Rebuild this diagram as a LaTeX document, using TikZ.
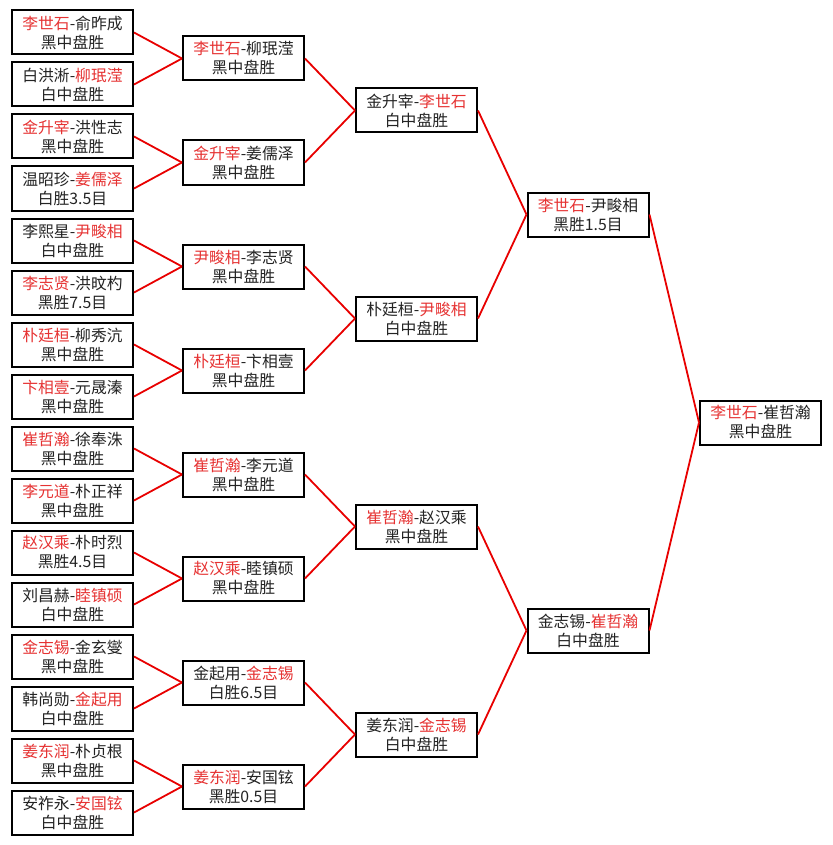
\documentclass[tikz,border=0pt]{standalone}
\usepackage{fontspec}
\setmainfont{Noto Sans CJK SC}
\definecolor{txtred}{RGB}{230,50,50}
\definecolor{linered}{RGB}{232,0,0}
\definecolor{txtblk}{RGB}{35,35,35}
\newcommand\rn[1]{\textcolor{txtred}{#1}}
\tikzset{
  game/.style={draw=black, line width=2pt, fill=white, minimum width=121pt, minimum height=44pt,
    inner sep=0pt, align=center, text=txtblk, font=\fontsize{15.8}{19}\selectfont},
  conn/.style={draw=linered, line width=1.8pt}
}
\begin{document}
\begin{tikzpicture}[x=1pt,y=-1pt]
\useasboundingbox[fill=white] (0,0) rectangle (832,845);
% round 1
\node[game] (a0)  at (72.5, 32.5) {\rn{李世石}-俞昨成\\黑中盘胜};
\node[game] (a1)  at (72.5, 84.5) {白洪淅-\rn{柳珉滢}\\白中盘胜};
\node[game] (a2)  at (72.5,136.5) {\rn{金升宰}-洪性志\\黑中盘胜};
\node[game] (a3)  at (72.5,188.5) {温昭珍-\rn{姜儒泽}\\白胜3.5目};
\node[game] (a4)  at (72.5,240.5) {李熙星-\rn{尹畯相}\\白中盘胜};
\node[game] (a5)  at (72.5,292.5) {\rn{李志贤}-洪旼杓\\黑胜7.5目};
\node[game] (a6)  at (72.5,344.5) {\rn{朴廷桓}-柳秀沆\\黑中盘胜};
\node[game] (a7)  at (72.5,396.5) {\rn{卞相壹}-元晟溱\\黑中盘胜};
\node[game] (a8)  at (72.5,448.5) {\rn{崔哲瀚}-徐奉洙\\黑中盘胜};
\node[game] (a9)  at (72.5,500.5) {\rn{李元道}-朴正祥\\黑中盘胜};
\node[game] (a10) at (72.5,552.5) {\rn{赵汉乘}-朴时烈\\黑胜4.5目};
\node[game] (a11) at (72.5,604.5) {刘昌赫-\rn{睦镇硕}\\白中盘胜};
\node[game] (a12) at (72.5,656.5) {\rn{金志锡}-金玄燮\\黑中盘胜};
\node[game] (a13) at (72.5,708.5) {韩尚勋-\rn{金起用}\\白中盘胜};
\node[game] (a14) at (72.5,760.5) {\rn{姜东润}-朴贞根\\黑中盘胜};
\node[game] (a15) at (72.5,812.5) {安祚永-\rn{安国铉}\\白中盘胜};
% round 2
\node[game] (b0) at (243.5, 58.5) {\rn{李世石}-柳珉滢\\黑中盘胜};
\node[game] (b1) at (243.5,162.5) {\rn{金升宰}-姜儒泽\\黑中盘胜};
\node[game] (b2) at (243.5,266.5) {\rn{尹畯相}-李志贤\\黑中盘胜};
\node[game] (b3) at (243.5,370.5) {\rn{朴廷桓}-卞相壹\\黑中盘胜};
\node[game] (b4) at (243.5,474.5) {\rn{崔哲瀚}-李元道\\黑中盘胜};
\node[game] (b5) at (243.5,578.5) {\rn{赵汉乘}-睦镇硕\\黑中盘胜};
\node[game] (b6) at (243.5,682.5) {金起用-\rn{金志锡}\\白胜6.5目};
\node[game] (b7) at (243.5,786.5) {\rn{姜东润}-安国铉\\黑胜0.5目};
% round 3
\node[game] (c0) at (416.5,110.5) {金升宰-\rn{李世石}\\白中盘胜};
\node[game] (c1) at (416.5,318.5) {朴廷桓-\rn{尹畯相}\\白中盘胜};
\node[game] (c2) at (416.5,526.5) {\rn{崔哲瀚}-赵汉乘\\黑中盘胜};
\node[game] (c3) at (416.5,734.5) {姜东润-\rn{金志锡}\\白中盘胜};
% round 4
\node[game] (d0) at (588,214.5) {\rn{李世石}-尹畯相\\黑胜1.5目};
\node[game] (d1) at (588,630.5) {金志锡-\rn{崔哲瀚}\\白中盘胜};
% final
\node[game] (e0) at (760.5,422.5) {\rn{李世石}-崔哲瀚\\黑中盘胜};
% connectors
\foreach \i/\p in {0/0,1/0,2/1,3/1,4/2,5/2,6/3,7/3,8/4,9/4,10/5,11/5,12/6,13/6,14/7,15/7}
  \draw[conn] (a\i.east) -- (b\p.west);
\foreach \i/\p in {0/0,1/0,2/1,3/1,4/2,5/2,6/3,7/3}
  \draw[conn] (b\i.east) -- (c\p.west);
\foreach \i/\p in {0/0,1/0,2/1,3/1}
  \draw[conn] (c\i.east) -- (d\p.west);
\foreach \i in {0,1}
  \draw[conn] (d\i.east) -- (e0.west);
\end{tikzpicture}
\end{document}
